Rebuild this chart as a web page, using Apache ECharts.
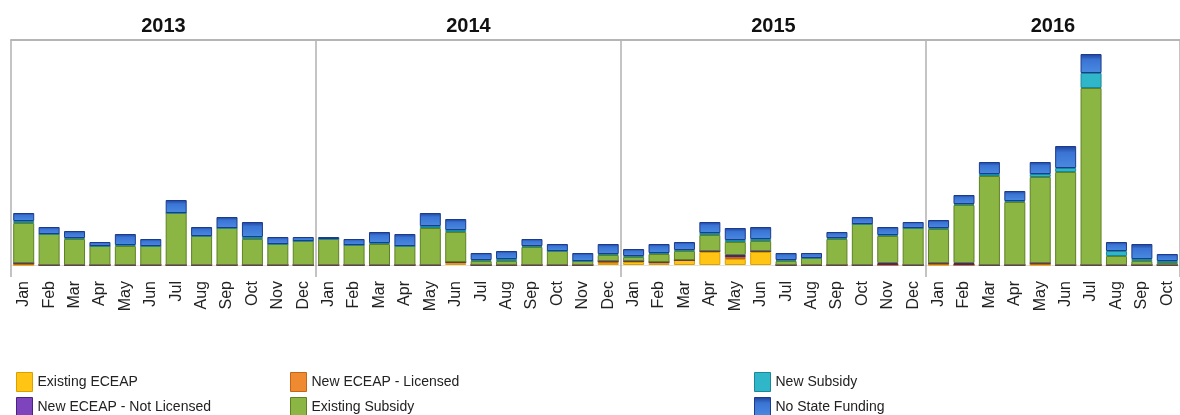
<!DOCTYPE html>
<html>
<head>
<meta charset="utf-8">
<script src="https://cdn.jsdelivr.net/npm/echarts@6/dist/echarts.min.js"></script>
<style>html,body{margin:0;padding:0;background:#fff}#c{width:1180px;height:415px}</style>
</head>
<body>
<div id="c"></div>
<script>
var monthNames = ['Jan','Feb','Mar','Apr','May','Jun','Jul','Aug','Sep','Oct','Nov','Dec'];
var years = ['2013','2014','2015','2016'];
var monthsPerYear = [12,12,12,10];

var existingECEAP = [0,0,0,0,0,0,0,0,0,0,0,0, 0,0,0,0,0,2,0,0,0,0,0,2, 3,2,5,13,6,13,0,0,0,0,0,0, 0,0,0,0,0,0,0,0,0,0];
var newECEAPLicensed = [2,0,0,0,0,0,0,0,0,0,0,0, 0,0,0,0,0,1,0,0,0,0,0,2, 1,1,0,1,2,1,0,0,0,0,0,0, 2,0,0,0,2,0,0,0,0,0];
var newECEAPNotLicensed = [0,0,0,0,0,0,0,0,0,0,0,0, 0,0,0,0,0,0,0,0,0,0,0,0, 0,0,0,0,2,0,0,0,0,0,2,0, 0,2,0,0,0,0,0,0,0,0];
var existingSubsidy = [40,31,26,19,19,19,52,29,37,26,21,24, 26,20,21,19,37,30,4,4,18,14,4,6, 4,8,9,16,13,10,4,7,26,41,27,37, 34,58,89,63,86,93,177,9,4,2];
var newSubsidy = [2,0,1,0,1,0,0,0,0,2,0,0, 0,0,1,0,2,2,1,2,1,0,0,1, 1,1,1,2,2,2,1,0,1,0,1,0, 1,1,2,1,3,4,15,5,2,2];
var noStateFunding = [8,7,7,4,11,7,13,9,11,15,7,4, 2,6,11,12,13,11,7,8,7,7,8,10, 7,9,8,11,12,12,7,5,6,7,8,6, 8,9,12,10,12,22,19,9,15,7];

var categories = [];
monthsPerYear.forEach(function(n){ for (var i=0;i<n;i++) categories.push(monthNames[i]); });
var yearCenters = [];
var acc = 0;
monthsPerYear.forEach(function(n){ yearCenters.push(acc + n/2); acc += n; });

var seriesDefs = [
  {name:'Existing ECEAP', data: existingECEAP, color:'#FFC414', border:'#d9a000'},
  {name:'New ECEAP - Licensed', data: newECEAPLicensed, color:'#F08A30', border:'#c0651a'},
  {name:'New ECEAP - Not Licensed', data: newECEAPNotLicensed, color:'#7E44BE', border:'#4a2380'},
  {name:'Existing Subsidy', data: existingSubsidy, color:'#8CB644', border:'#5f8124'},
  {name:'New Subsidy', data: newSubsidy, color:'#2FB6C8', border:'#1a8898'},
  {name:'No State Funding', data: noStateFunding, color: new echarts.graphic.LinearGradient(0,0,0,1,[{offset:0,color:'#1e3f98'},{offset:0.3,color:'#3a74d4'},{offset:1,color:'#4a8ae0'}]), border:'#1c3b8c'}
];

var series = seriesDefs.map(function(s){
  return {
    name: s.name, type:'bar', stack:'total', barWidth:21,
    data: s.data, xAxisIndex:0, yAxisIndex:0,
    itemStyle:{color:s.color, borderColor:s.border, borderWidth:1},
    emphasis:{disabled:true}
  };
});

var legendText = {fontSize:14, color:'#222', fontFamily:"'Liberation Sans',Arial,sans-serif"};
var legendSlots = [
  ['Existing ECEAP', 16, 372], ['New ECEAP - Not Licensed', 16, 397],
  ['New ECEAP - Licensed', 290, 372], ['Existing Subsidy', 290, 397],
  ['New Subsidy', 754, 372], ['No State Funding', 754, 397]
];
var legends = legendSlots.map(function(s){
  return {left:s[1], top:s[2], icon:'rect', itemWidth:16, itemHeight:19, itemGap:5, padding:0,
    itemStyle:{borderWidth:1}, textStyle:legendText, data:[s[0]], selectedMode:false};
});

var chart = echarts.init(document.getElementById('c'));
chart.setOption({
  animation:false,
  grid:{left:11, top:40, width:1178, height:225, show:false},
  legend: legends,
  xAxis:[
    {type:'category', data:categories, boundaryGap:true, position:'bottom',
     axisLine:{show:true, lineStyle:{color:'#e2e2e2', width:1}},
     axisTick:{show:true, length:12, interval:function(i){return i%12===0;}, lineStyle:{color:'#b0b0b0', width:1.5}},
     splitLine:{show:true, interval:function(i){return i%12===0;}, lineStyle:{color:'#b0b0b0', width:1.5}},
     axisLabel:{interval:0, rotate:90, margin:16, fontSize:16, color:'#222', fontFamily:"'Liberation Sans',Arial,sans-serif"}},
    {type:'value', position:'top', min:0, max:categories.length,
     axisLine:{show:true, lineStyle:{color:'#b5b5b5', width:2}},
     axisTick:{show:false}, splitLine:{show:false},
     axisLabel:{customValues:yearCenters, margin:4, fontSize:20, fontWeight:'bold', color:'#111', fontFamily:"'Liberation Sans',Arial,sans-serif",
       formatter:function(v){ var i = yearCenters.indexOf(v); return i>=0 ? years[i] : ''; }}}
  ],
  yAxis:{type:'value', min:0, max:225, show:false},
  series: series
});
</script>
</body>
</html>
